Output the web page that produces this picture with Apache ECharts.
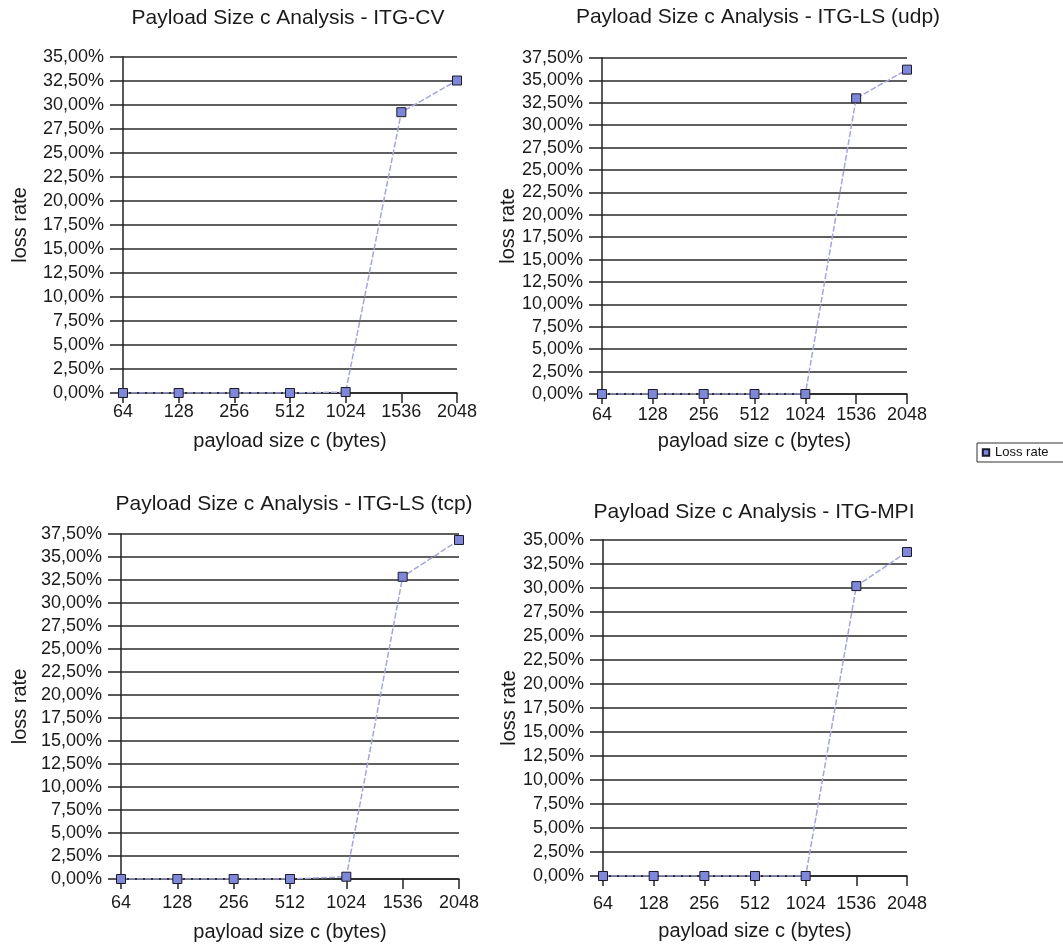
<!DOCTYPE html>
<html>
<head>
<meta charset="utf-8">
<script src="https://cdn.jsdelivr.net/npm/echarts@6/dist/echarts.min.js"></script>
<style>html,body{margin:0;padding:0;background:#fff}#c{width:1063px;height:945px}</style>
</head>
<body>
<div id="c"></div>
<script>
const categories = ['64','128','256','512','1024','1536','2048'];
const lossCV     = [0, 0, 0, 0, 0.1, 29.25, 32.55];
const lossLSudp  = [0, 0, 0, 0, 0, 33.0, 36.2];
const lossLStcp  = [0, 0, 0, 0, 0.25, 32.85, 36.85];
const lossMPI    = [0, 0, 0, 0, 0, 30.2, 33.75];
const titles = [
  'Payload Size c Analysis - ITG-CV',
  'Payload Size c Analysis - ITG-LS (udp)',
  'Payload Size c Analysis - ITG-LS (tcp)',
  'Payload Size c Analysis - ITG-MPI'
];
const yMax = [35, 37.5, 37.5, 35];
const seriesData = [lossCV, lossLSudp, lossLStcp, lossMPI];

const FONT = '"Liberation Sans", Arial, Helvetica, sans-serif';
const grids = [
  {left:123, top:57,  width:334, height:336},
  {left:602, top:58,  width:305, height:336},
  {left:121, top:534, width:338, height:345},
  {left:603, top:540, width:304, height:336}
];
const titlePos = [[288,8],[758,7],[294,494],[754,502]];
const xLabelMargin = [10, 12, 15, 19];
const xNameGap = [38, 37, 43, 45];
const yNameGap = [93, 84, 91, 78];

const chart = echarts.init(document.getElementById('c'));
const option = {
  backgroundColor:'#fff',
  animation:false,
  title: titles.map((t,i)=>({
    text:t, left:titlePos[i][0], top:titlePos[i][1], textAlign:'center', padding:0,
    textStyle:{fontFamily:FONT, fontSize:21, fontWeight:'normal', color:'#1a1a1a'}
  })),
  legend:{
    data:['Loss rate'], left:977, top:443, orient:'vertical',
    borderColor:'#333', borderWidth:1, padding:[3,20,3,4],
    itemWidth:8, itemHeight:8, itemGap:4,
    textStyle:{fontFamily:FONT, fontSize:13, color:'#111'}
  },
  grid: grids,
  xAxis: grids.map((g,i)=>({
    type:'category', gridIndex:i, data:categories, boundaryGap:false,
    name:'payload size c (bytes)', nameLocation:'middle', nameGap:xNameGap[i],
    nameTextStyle:{fontFamily:FONT, fontSize:20, color:'#1a1a1a'},
    axisLine:{lineStyle:{color:'#222', width:1.5}},
    axisTick:{show:true, length:10, interval:0, lineStyle:{color:'#222', width:1.5}},
    axisLabel:{fontFamily:FONT, fontSize:18, color:'#1a1a1a', margin:xLabelMargin[i], interval:0},
    splitLine:{show:false}
  })),
  yAxis: grids.map((g,i)=>({
    type:'value', gridIndex:i, min:0, max:yMax[i], interval:2.5,
    name:'loss rate', nameLocation:'middle', nameGap:yNameGap[i], nameRotate:90,
    nameTextStyle:{fontFamily:FONT, fontSize:20, color:'#1a1a1a'},
    axisLine:{show:true, lineStyle:{color:'#222', width:1.5}},
    axisTick:{show:true, length:13, lineStyle:{color:'#222', width:1.5}},
    axisLabel:{fontFamily:FONT, fontSize:18, color:'#1a1a1a', margin:19,
      formatter:v=>v.toFixed(2).replace('.',',')+'%'},
    splitLine:{show:true, lineStyle:{color:'#2a2a2a', width:1.5}}
  })),
  series: seriesData.map((d,i)=>({
    name:'Loss rate', type:'line', xAxisIndex:i, yAxisIndex:i, data:d,
    symbol:'rect', symbolSize:9, showSymbol:true,
    lineStyle:{color:'#a3a6dd', width:1.5, type:[6,2]},
    itemStyle:{color:'#7f88d8', borderColor:'#1a1a2a', borderWidth:1}
  }))
};
chart.setOption(option);
</script>
</body>
</html>
